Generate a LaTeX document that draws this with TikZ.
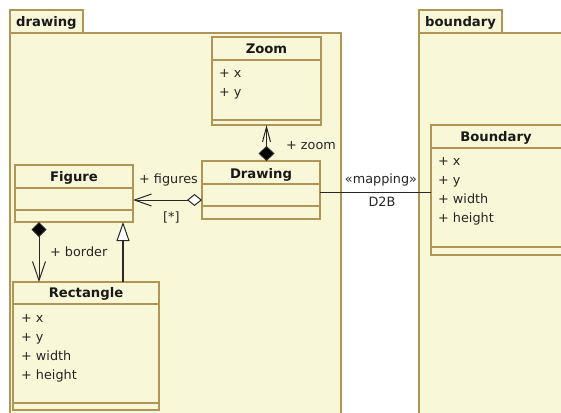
\documentclass[tikz,border=0pt]{standalone}
\usepackage{fontspec}
\setmainfont{DejaVu Sans}
\usetikzlibrary{arrows.meta}
\definecolor{pkgfill}{RGB}{248,248,216}
\definecolor{pkgline}{RGB}{176,150,86}
\definecolor{connc}{RGB}{40,40,40}
\begin{document}
\begin{tikzpicture}[x=1pt,y=-1pt,
  box/.style={draw=pkgline, fill=pkgfill, line width=1.2pt, rectangle, inner sep=0pt, outer sep=0pt, anchor=north west},
  ttl/.style={font=\fontsize{13.2}{15}\selectfont\bfseries, anchor=base, inner sep=0pt, text=black!90},
  attr/.style={font=\fontsize{12.8}{14}\selectfont, anchor=base west, inner sep=0pt, text=black!85},
  lbl/.style={font=\fontsize{12.8}{14}\selectfont, anchor=base west, inner sep=0pt, text=black!85},
  sep/.style={draw=pkgline, line width=1.2pt},
  conn/.style={draw=connc, line width=1pt}]
\path[use as bounding box] (0,0) rectangle (561,412);
\clip (0,0) rectangle (561,412);
\fill[white] (0,0) rectangle (561,412);

% packages
\node[box, minimum width=331pt, minimum height=420pt] (drawpkg) at (10,33) {};
\node[box, minimum width=73pt, minimum height=23pt] (drawtab) at (10,10) {};
\node[ttl, anchor=base west] (drawtabt) at (16,27) {drawing};
\node[box, minimum width=200pt, minimum height=420pt] (bndpkg) at (419,33) {};
\node[box, minimum width=83pt, minimum height=23pt] (bndtab) at (419,10) {};
\node[ttl, anchor=base west] (bndtabt) at (425,27) {boundary};

% Zoom
\node[box, minimum width=109pt, minimum height=88pt] (zoom) at (212,37) {};
\draw[sep] ([yshift=-23pt]zoom.north west) -- ([yshift=-23pt]zoom.north east);
\draw[sep] ([yshift=5pt]zoom.south west) -- ([yshift=5pt]zoom.south east);
\node[ttl] (zoomt) at (266.5,53) {Zoom};
\node[attr] (zoomx) at (219,77) {+ x};
\node[attr] (zoomy) at (219,96) {+ y};

% Drawing
\node[box, minimum width=118pt, minimum height=58pt] (drawing) at (202,161) {};
\draw[sep] ([yshift=-23pt]drawing.north west) -- ([yshift=-23pt]drawing.north east);
\draw[sep] ([yshift=13pt]drawing.south west) -- ([yshift=13pt]drawing.south east);
\node[ttl] (drawingt) at (261,178) {Drawing};

% Figure
\node[box, minimum width=118pt, minimum height=57pt] (figure) at (15,165) {};
\draw[sep] ([yshift=-23pt]figure.north west) -- ([yshift=-23pt]figure.north east);
\draw[sep] ([yshift=12pt]figure.south west) -- ([yshift=12pt]figure.south east);
\node[ttl] (figuret) at (74,181) {Figure};

% Rectangle
\node[box, minimum width=146pt, minimum height=128pt] (rectangle) at (13,282) {};
\draw[sep] ([yshift=-22pt]rectangle.north west) -- ([yshift=-22pt]rectangle.north east);
\draw[sep] ([yshift=7pt]rectangle.south west) -- ([yshift=7pt]rectangle.south east);
\node[ttl] (rectanglet) at (86,297.5) {Rectangle};
\node[attr] (rx) at (21,322) {+ x};
\node[attr] (ry) at (21,341) {+ y};
\node[attr] (rw) at (21,360) {+ width};
\node[attr] (rh) at (21,379) {+ height};

% Boundary
\node[box, minimum width=160pt, minimum height=130pt] (boundary) at (431,125) {};
\draw[sep] ([yshift=-23pt]boundary.north west) -- ([yshift=-23pt]boundary.north east);
\draw[sep] ([yshift=8pt]boundary.south west) -- ([yshift=8pt]boundary.south east);
\node[ttl] (boundaryt) at (496,141) {Boundary};
\node[attr] (bx) at (438,165) {+ x};
\node[attr] (by) at (438,184) {+ y};
\node[attr] (bw) at (438,203) {+ width};
\node[attr] (bh) at (438,222) {+ height};

% connectors
\draw[conn, {Diamond[length=15pt,width=16pt,fill=black]}-{Straight Barb[length=15pt,width=8pt]}]
  (zoom.south |- drawing.north) -- (zoom.south);
\node[lbl] (zooml) at (286,149) {+ zoom};

\draw[conn, {Diamond[open,fill=white,length=15pt,width=12pt]}-{Straight Barb[length=17pt,width=12pt]}]
  ([yshift=-10pt]drawing.west) coordinate (ag) -- (ag -| figure.east);
\node[lbl] (figl) at (139,183) {+ figures};
\node[lbl] (figm) at (163,221) {[*]};

\draw[conn, {Diamond[length=15pt,width=15pt,fill=black]}-{Straight Barb[length=19pt,width=13pt]}]
  ([xshift=24pt]figure.south west) coordinate (cb) -- (cb |- rectangle.north);
\node[lbl] (borderl) at (50,256) {+ border};

\draw[conn, line width=2.5pt, -{Triangle[open, fill=white, length=19pt, width=13pt, line width=1pt]}]
  ([xshift=110pt]rectangle.north west) coordinate (gz) -- (gz |- figure.south);

\draw[conn] ([yshift=-2pt]drawing.east) coordinate (mp) -- (mp -| boundary.west);
\node[lbl, anchor=base] (mapl) at (381,183.5) {«mapping»};
\node[lbl, anchor=base] (mapn) at (382,206.5) {D2B};
\end{tikzpicture}
\end{document}
